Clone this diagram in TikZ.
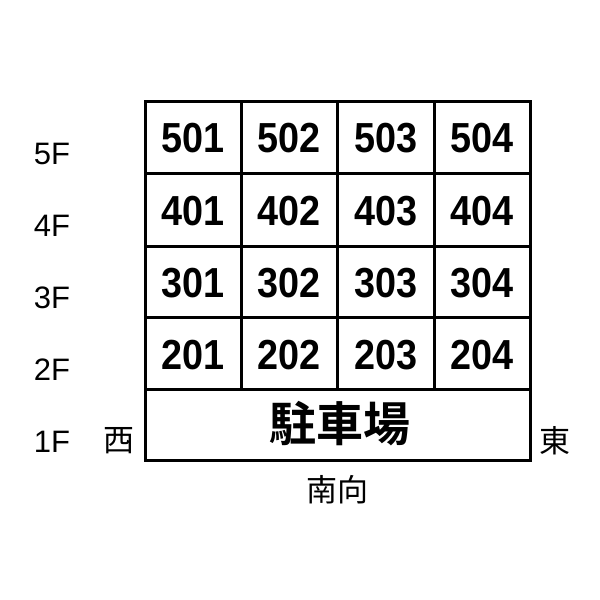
\documentclass[tikz,border=0pt]{standalone}
\usepackage{fontspec}
\setmainfont{Liberation Sans}
\newfontfamily\numfont[FakeStretch=0.9]{Liberation Sans Bold}
\newfontfamily\jpbold{Noto Sans CJK JP Bold}
\newfontfamily\jpreg{Noto Sans CJK JP}
\begin{document}
\begin{tikzpicture}[x=1pt,y=-1pt,
  gridline/.style={draw=black,line width=3pt},
  room/.style={font=\numfont\fontsize{42}{42}\selectfont,inner sep=0pt,anchor=center},
  floorlbl/.style={font=\fontsize{31}{31}\selectfont,inner sep=0pt,anchor=center},
  dirlbl/.style={font=\jpreg\fontsize{31}{31}\selectfont,inner sep=0pt,anchor=center}]
\useasboundingbox[fill=white] (0,0) rectangle (600,600);
% grid
\draw[gridline] (145,101) rectangle (530,460);
\foreach \y in {173,246,317,389} \draw[gridline] (145,\y) -- (530,\y);
\foreach \x in {241,337,434} \draw[gridline] (\x,101) -- (\x,389);
% rooms
\foreach \f/\yc in {5/138,4/211,3/283,2/355}{
  \foreach \r/\xc in {1/193,2/289,3/386,4/482}{
    \node[room] (r\f0\r) at (\xc,\yc) {\f0\r};
  }
}
\node[font=\jpbold\fontsize{47}{47}\selectfont,inner sep=0pt] (park) at (340,424) {駐車場};
% floor labels
\node[floorlbl] (f5) at (52,154) {5F};
\node[floorlbl] (f4) at (52,226) {4F};
\node[floorlbl] (f3) at (52,298) {3F};
\node[floorlbl] (f2) at (52,370) {2F};
\node[floorlbl] (f1) at (52,442) {1F};
% directions
\node[dirlbl] (west) at (119,441) {西};
\node[dirlbl] (east) at (555,441) {東};
\node[dirlbl] (south) at (337,490) {南向};
\end{tikzpicture}
\end{document}
